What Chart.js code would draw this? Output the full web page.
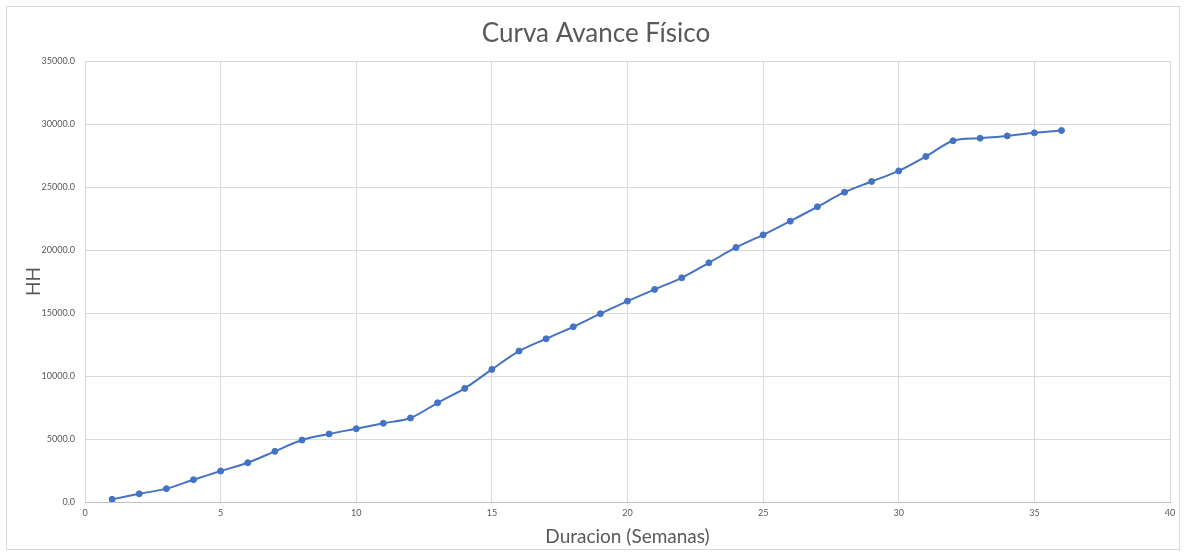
<!DOCTYPE html>
<html>
<head>
<meta charset="utf-8">
<script src="https://cdn.jsdelivr.net/npm/chart.js@4/dist/chart.umd.min.js"></script>
<style>
  html, body { margin: 0; padding: 0; background: #ffffff; }
  #wrap { position: relative; width: 1186px; height: 556px; }
  #frame { position: absolute; left: 6px; top: 6px; width: 1174px; height: 544px; border: 1px solid #d9d9d9; box-sizing: border-box; }
  canvas { position: absolute; left: 0; top: 0; }
</style>
</head>
<body>
<div id="wrap">
  <div id="frame"></div>
  <canvas id="c" width="1186" height="556"></canvas>
</div>
<script>
// Semana del proyecto
const semanas = [1,2,3,4,5,6,7,8,9,10,11,12,13,14,15,16,17,18,19,20,21,22,23,24,25,26,27,28,29,30,31,32,33,34,35,36];
// Horas hombre acumuladas
const horasHombre = [210,650,1060,1770,2460,3120,4020,4920,5400,5820,6250,6670,7880,9020,10530,11980,12960,13910,14950,15950,16880,17800,18990,20210,21210,22300,23440,24600,25450,26290,27430,28680,28890,29070,29310,29500];

const puntos = semanas.map((s, i) => ({ x: s, y: horasHombre[i] }));
const azul = '#4472C4';
const gris = '#595959';
const fuente = 'Lato, "Open Sans", "DejaVu Sans", sans-serif';

new Chart(document.getElementById('c'), {
  type: 'line',
  data: {
    datasets: [{
      data: puntos,
      borderColor: azul,
      backgroundColor: azul,
      borderWidth: 2,
      pointRadius: 3,
      pointHoverRadius: 3,
      pointBorderWidth: 1,
      pointBorderColor: azul,
      tension: 0.3,
      fill: false
    }]
  },
  options: {
    responsive: false,
    animation: false,
    layout: { padding: { left: 22, right: 16, top: 0, bottom: 0 } },
    plugins: {
      legend: { display: false },
      tooltip: { enabled: false },
      title: {
        display: true,
        text: 'Curva Avance Físico',
        color: gris,
        font: { family: fuente, size: 26, weight: 'normal' },
        padding: { top: 18, bottom: 12 }
      }
    },
    scales: {
      x: {
        type: 'linear',
        min: 0,
        max: 40,
        ticks: { stepSize: 5, color: gris, font: { family: fuente, size: 9 }, padding: 6 },
        grid: { color: '#d9d9d9', drawTicks: false },
        border: { color: '#bfbfbf' },
        title: {
          display: true,
          text: 'Duracion (Semanas)',
          color: gris,
          font: { family: fuente, size: 19 },
          padding: { top: 0, bottom: 8 }
        },
        afterFit: (s) => { s.height = 54; }
      },
      y: {
        min: 0,
        max: 35000,
        ticks: {
          stepSize: 5000,
          color: gris,
          font: { family: fuente, size: 9 },
          padding: 10,
          callback: (v) => Number(v).toFixed(1)
        },
        grid: { color: '#d9d9d9', drawTicks: false },
        border: { color: '#d9d9d9' },
        title: {
          display: true,
          text: 'HH',
          color: gris,
          font: { family: fuente, size: 19 },
          padding: { top: 0, bottom: 0 }
        },
        afterFit: (s) => { s.width = 63; }
      }
    }
  }
});
</script>
</body>
</html>
